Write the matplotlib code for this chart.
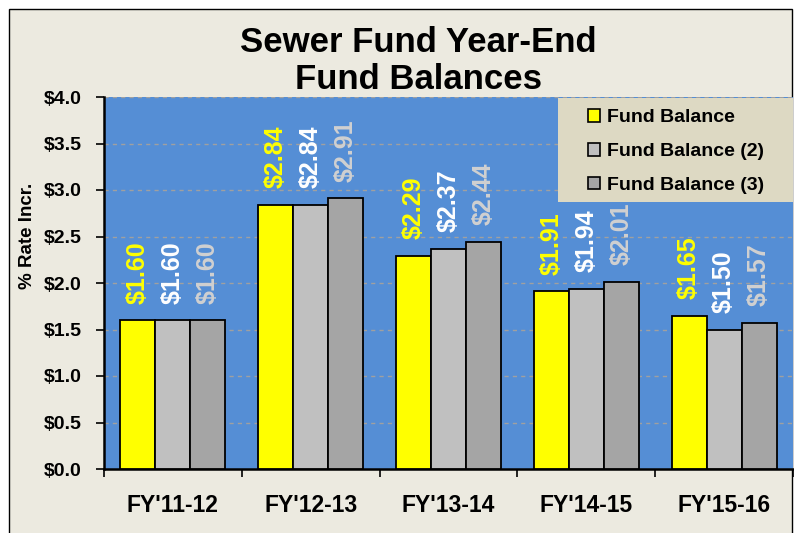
import matplotlib
matplotlib.use("Agg")
import matplotlib.pyplot as plt
import numpy as np
from matplotlib.patches import Rectangle

categories = ["FY'11-12", "FY'12-13", "FY'13-14", "FY'14-15", "FY'15-16"]
series_names = ["Fund Balance", "Fund Balance (2)", "Fund Balance (3)"]
fund_balance = [1.60, 2.84, 2.29, 1.91, 1.65]
fund_balance_2 = [1.60, 2.84, 2.37, 1.94, 1.50]
fund_balance_3 = [1.60, 2.91, 2.44, 2.01, 1.57]
y_ticks = [0.0, 0.5, 1.0, 1.5, 2.0, 2.5, 3.0, 3.5, 4.0]

plt.rcParams['font.family'] = ['Liberation Sans', 'DejaVu Sans']

fig = plt.figure(figsize=(7.94, 5.33), dpi=100)
fig.patch.set_facecolor('white')
# outer chart frame
fig.patches.append(Rectangle((9/794, -0.01), (792-9)/794, 1 - 9/533 + 0.01,
                             transform=fig.transFigure, facecolor='#ECEAE0',
                             edgecolor='black', linewidth=1.0, zorder=-5))

ax = fig.add_axes([104/794, 1 - 469/533, (793-104)/794, (469-97)/533])
ax.set_facecolor('#558ED5')

x = np.arange(len(categories))
w = 0.254
bar_colors = ['#FFFF00', '#C0C0C0', '#A5A5A5']
label_colors = ['#FFFF00', '#FFFFFF', '#D0D0D0']
series = [fund_balance, fund_balance_2, fund_balance_3]
for i, (vals, name) in enumerate(zip(series, series_names)):
    pos = x + (i - 1) * w
    ax.bar(pos, vals, width=w, color=bar_colors[i], edgecolor='black',
           linewidth=1.3, label=name, zorder=3)
    for px, v in zip(pos, vals):
        ax.annotate(f"${v:.2f}", (px, v), xytext=(0, 12), textcoords='offset points',
                    rotation=90, ha='center', va='bottom',
                    color=label_colors[i], fontsize=18, fontweight='bold', zorder=4)

ax.set_xlim(-0.5, len(categories) - 0.5)
ax.set_ylim(0, 4.0)
ax.set_yticks(y_ticks)
ax.set_yticklabels([f"${t:.1f}" for t in y_ticks], fontsize=14, fontweight='bold')
ax.yaxis.grid(True, linestyle=(0, (3, 3)), color='#A0A0A0', linewidth=1.0, zorder=1)
ax.set_axisbelow(True)

ax.set_xticks(np.arange(len(categories) + 1) - 0.5)
ax.set_xticklabels([])
ax.set_xticks(x, minor=True)
ax.set_xticklabels(categories, minor=True, fontsize=16.5, fontweight='bold')
ax.tick_params(axis='x', which='minor', length=0, pad=18)
ax.tick_params(axis='x', which='major', length=6, width=1.2, direction='out')
ax.tick_params(axis='y', length=6, width=1.2, direction='out', pad=10)

for s in ['top', 'right']:
    ax.spines[s].set_visible(False)
ax.spines['left'].set_linewidth(1.8)
ax.spines['bottom'].set_linewidth(1.8)

ax.set_ylabel("% Rate Incr.", fontsize=13.5, fontweight='bold')
ax.yaxis.set_label_coords(-0.098, 0.626)

# legend box background
ax.add_patch(Rectangle((0.659, 0.718), 0.341, 0.28, transform=ax.transAxes,
                       facecolor='#DDD9C3', edgecolor='none', zorder=5, clip_on=False))
leg = ax.legend(loc='center left', bbox_to_anchor=(0.7025, 0.8535), frameon=False,
                prop={'weight': 'bold', 'size': 14},
                handlelength=0.62, handleheight=0.62, handletextpad=0.36,
                labelspacing=0.86, borderpad=0.0, borderaxespad=0.0)
leg.set_zorder(6)
for h in leg.legend_handles:
    h.set_linewidth(1.2)

fig.text(418/794, 1 - 61/533, "Sewer Fund Year-End\nFund Balances", ha='center',
         va='center', fontsize=25, fontweight='bold', linespacing=1.17)

fig.savefig("out.png", dpi=100, facecolor=fig.get_facecolor())
